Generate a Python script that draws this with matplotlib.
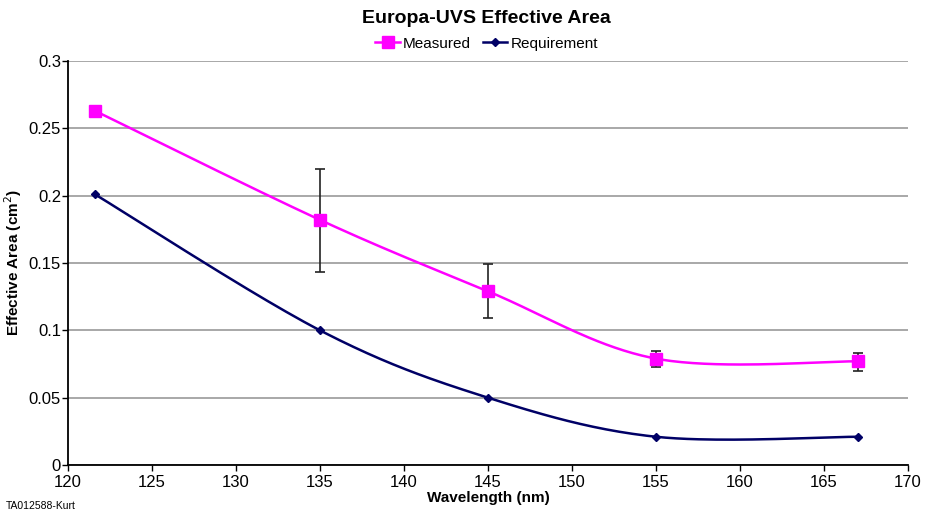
import numpy as np
import matplotlib
matplotlib.use("Agg")
import matplotlib.pyplot as plt

plt.rcParams['font.family'] = ['Liberation Sans', 'DejaVu Sans']

wavelength = [121.6, 135, 145, 155, 167]
measured = [0.263, 0.182, 0.129, 0.079, 0.077]
err_upper = [0.263, 0.220, 0.149, 0.085, 0.083]
err_lower = [0.263, 0.143, 0.109, 0.073, 0.070]
requirement = [0.201, 0.100, 0.050, 0.021, 0.021]
x_ticks = [120, 125, 130, 135, 140, 145, 150, 155, 160, 165, 170]
y_ticks = [0, 0.05, 0.1, 0.15, 0.2, 0.25, 0.3]
y_ticklabels = ['0', '0.05', '0.1', '0.15', '0.2', '0.25', '0.3']


def smooth(x, y, n=40, tension=1 / 6):
    x = np.asarray(x, float)
    y = np.asarray(y, float)
    px, py = [], []
    for i in range(len(x) - 1):
        x0, y0 = (x[i - 1], y[i - 1]) if i > 0 else (x[i], y[i])
        x3, y3 = (x[i + 2], y[i + 2]) if i + 2 < len(x) else (x[i + 1], y[i + 1])
        x1, y1, x2, y2 = x[i], y[i], x[i + 1], y[i + 1]
        c1x = x1 + (x2 - x0) * tension
        c1y = y1 + (y2 - y0) * tension
        c2x = x2 - (x3 - x1) * tension
        c2y = y2 - (y3 - y1) * tension
        t = np.linspace(0, 1, n)
        bx = (1 - t) ** 3 * x1 + 3 * (1 - t) ** 2 * t * c1x + 3 * (1 - t) * t ** 2 * c2x + t ** 3 * x2
        by = (1 - t) ** 3 * y1 + 3 * (1 - t) ** 2 * t * c1y + 3 * (1 - t) * t ** 2 * c2y + t ** 3 * y2
        px.extend(bx)
        py.extend(by)
    return np.array(px), np.array(py)


fig = plt.figure(figsize=(9.27, 5.15), dpi=100)
ax = fig.add_axes([0.0734, 0.097, 0.906, 0.7846])

mag = '#FF00FF'
navy = '#000066'

ax.set_xlim(120, 170)
ax.set_ylim(0, 0.3)
ax.set_yticks(y_ticks)
ax.set_yticklabels(y_ticklabels)
ax.set_xticks(x_ticks)
ax.yaxis.grid(True, color='#999999', linewidth=1.2)
ax.set_axisbelow(True)
for s in ['top', 'right']:
    ax.spines[s].set_visible(False)
ax.spines['left'].set_linewidth(1.3)
ax.spines['bottom'].set_linewidth(1.3)
ax.tick_params(axis='y', direction='out', length=4, width=1, labelsize=12, pad=1)
ax.tick_params(axis='x', direction='out', length=4, width=1, labelsize=12, pad=3)

sx, sy = smooth(wavelength, measured)
ax.plot(sx, sy, color=mag, linewidth=1.8, zorder=3)
rx, ry = smooth(wavelength, requirement)
ax.plot(rx, ry, color=navy, linewidth=1.8, zorder=3)

yerr = [np.array(measured) - np.array(err_lower), np.array(err_upper) - np.array(measured)]
ax.errorbar(wavelength, measured, yerr=yerr, fmt='none', ecolor='#222222',
            elinewidth=1.2, capsize=3.5, capthick=1.2, zorder=4)
ax.plot(wavelength, measured, linestyle='none', marker='s', markersize=8,
        color=mag, zorder=5)
ax.plot(wavelength, requirement, linestyle='none', marker='D', markersize=4,
        color=navy, zorder=5)

h1, = ax.plot([], [], color=mag, marker='s', markersize=8, linewidth=1.8)
h2, = ax.plot([], [], color=navy, marker='D', markersize=4, linewidth=1.8)
fig.legend([h1, h2], ['Measured', 'Requirement'], loc='center', bbox_to_anchor=(0.525, 0.915),
           ncol=2, frameon=False, fontsize=11, handlelength=1.6, handletextpad=0.2,
           columnspacing=0.8)

fig.text(0.525, 0.965, 'Europa-UVS Effective Area', ha='center', va='center',
         fontsize=14, fontweight='bold')
ax.set_xlabel('Wavelength (nm)', fontsize=11, fontweight='bold', labelpad=1)
ax.set_ylabel('Effective Area (cm$^2$)', fontsize=11, fontweight='bold')
ax.yaxis.set_label_coords(-0.052, 0.5)
fig.text(0.006, 0.018, 'TA012588-Kurt', fontsize=7.5, ha='left', va='center')

fig.savefig('out.png', dpi=100)
